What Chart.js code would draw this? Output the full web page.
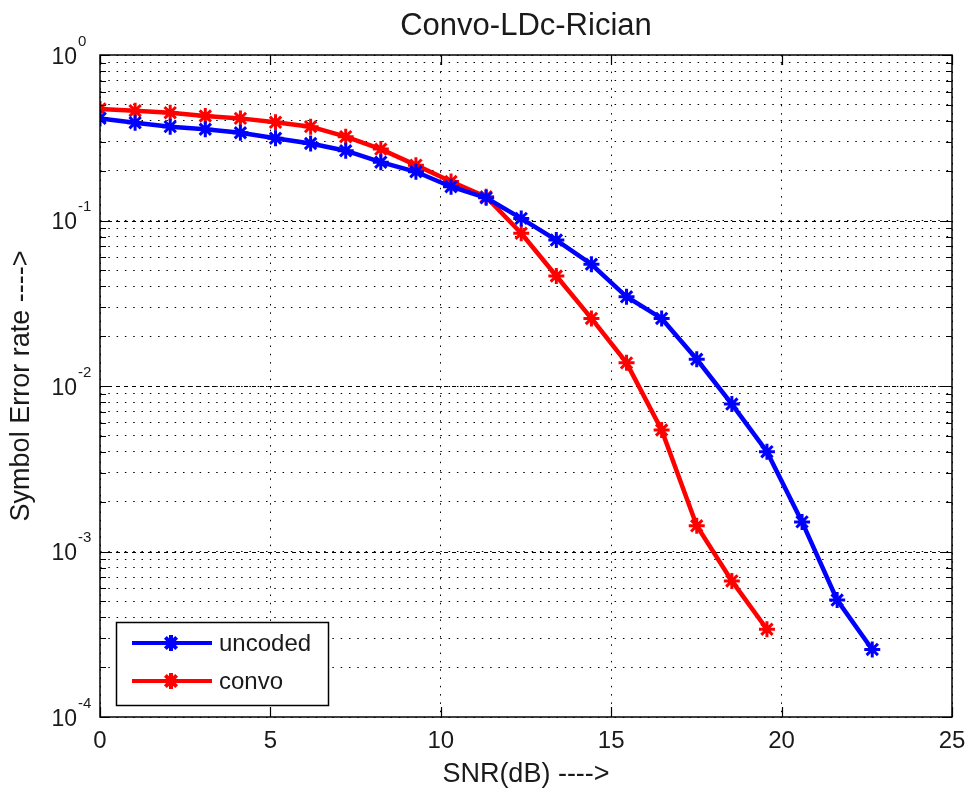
<!DOCTYPE html>
<html>
<head>
<meta charset="utf-8">
<script src="https://cdn.jsdelivr.net/npm/chart.js@4.4.1/dist/chart.umd.min.js"></script>
<style>
  html, body { margin: 0; padding: 0; background: #fff; }
  #wrap { width: 965px; height: 793px; }
</style>
</head>
<body>
<div id="wrap"><canvas id="myChart" width="965" height="793"></canvas></div>
<script>
// SNR values (dB) for each curve
var snrUncoded = [0, 1.03, 2.06, 3.09, 4.12, 5.15, 6.18, 7.21, 8.24, 9.27, 10.3, 11.33,
                  12.36, 13.39, 14.42, 15.45, 16.48, 17.51, 18.54, 19.57, 20.6, 21.63, 22.66];
var serUncoded = [0.414, 0.390, 0.369, 0.356, 0.339, 0.314, 0.292, 0.264, 0.225, 0.197, 0.160, 0.137,
                  0.103, 0.0762, 0.0544, 0.0346, 0.0256, 0.0145, 0.00778, 0.00401, 0.00151, 0.000509, 0.000256];

var snrConvo = [0, 1.03, 2.06, 3.09, 4.12, 5.15, 6.18, 7.21, 8.24, 9.27, 10.3, 11.33,
                12.36, 13.39, 14.42, 15.45, 16.48, 17.51, 18.54, 19.57];
var serConvo = [0.472, 0.461, 0.448, 0.428, 0.414, 0.392, 0.369, 0.321, 0.270, 0.216, 0.172, 0.139,
                0.0837, 0.0462, 0.0256, 0.0138, 0.00542, 0.00143, 0.000664, 0.000339];

var seriesNames = ['uncoded', 'convo'];
var xTicks = [0, 5, 10, 15, 20, 25];
var yDecades = [1e-4, 1e-3, 1e-2, 1e-1, 1];
var yExponents = ['-4', '-3', '-2', '-1', '0'];

var FONT = "'Liberation Sans', Arial, Helvetica, sans-serif";
var TEXT = '#1a1a1a';

// all log grid positions: decades plus 2..9 x decade
var yGrid = [];
yDecades.forEach(function (d, i) {
  yGrid.push(d);
  if (i < yDecades.length - 1) {
    for (var m = 2; m <= 9; m++) yGrid.push(+(d * m).toPrecision(3));
  }
});

function toPoints(xs, ys) {
  return ys.map(function (v, i) { return {x: xs[i], y: v}; });
}

var matlabFrame = {
  id: 'matlabFrame',
  beforeDatasetsDraw: function (chart) {
    var ctx = chart.ctx, a = chart.chartArea, ys = chart.scales.y;
    ctx.save();
    ctx.strokeStyle = '#000';
    ctx.lineWidth = 1;
    ctx.setLineDash([4, 4]);
    yDecades.forEach(function (d) {
      var py = Math.round(ys.getPixelForValue(d)) + 0.5;
      if (py <= a.top + 1 || py >= a.bottom - 1) return;
      ctx.beginPath();
      ctx.moveTo(a.left, py);
      ctx.lineTo(a.right, py);
      ctx.stroke();
    });
    ctx.restore();
  },
  afterDatasetsDraw: function (chart) {
    var ctx = chart.ctx, a = chart.chartArea, xs = chart.scales.x, ys = chart.scales.y;
    ctx.save();
    ctx.strokeStyle = '#000';
    ctx.lineWidth = 1.5;
    ctx.setLineDash([]);
    ctx.strokeRect(a.left, a.top, a.right - a.left, a.bottom - a.top);
    ctx.lineWidth = 1.2;
    // y ticks, inward on both sides
    yGrid.forEach(function (v) {
      var py = Math.round(ys.getPixelForValue(v)) + 0.5;
      var len = yDecades.indexOf(v) >= 0 ? 10 : 6;
      ctx.beginPath();
      ctx.moveTo(a.left, py); ctx.lineTo(a.left + len, py);
      ctx.moveTo(a.right, py); ctx.lineTo(a.right - len, py);
      ctx.stroke();
    });
    // x ticks, inward top and bottom
    xTicks.forEach(function (v) {
      var px = Math.round(xs.getPixelForValue(v)) + 0.5;
      ctx.beginPath();
      ctx.moveTo(px, a.bottom); ctx.lineTo(px, a.bottom - 10);
      ctx.moveTo(px, a.top); ctx.lineTo(px, a.top + 10);
      ctx.stroke();
    });
    // y tick labels 10^n
    ctx.fillStyle = TEXT;
    ctx.textBaseline = 'alphabetic';
    yDecades.forEach(function (d, i) {
      var py = ys.getPixelForValue(d);
      ctx.font = '23px ' + FONT;
      ctx.textAlign = 'right';
      ctx.fillText('10', 77, py + 8.5);
      ctx.font = '15px ' + FONT;
      ctx.textAlign = 'left';
      ctx.fillText(yExponents[i], 78, py - 9.5);
    });
    ctx.restore();
  },
  afterDraw: function (chart) {
    var ctx = chart.ctx;
    var bx = 116, by = 622, bw = 212, bh = 83;
    ctx.save();
    ctx.fillStyle = '#fff';
    ctx.fillRect(bx, by, bw, bh);
    ctx.strokeStyle = '#000';
    ctx.lineWidth = 1.5;
    ctx.strokeRect(bx + 0.5, by + 0.5, bw, bh);
    chart.data.datasets.forEach(function (ds, i) {
      var ly = by + 21 + i * 38;
      ctx.strokeStyle = ds.borderColor;
      ctx.lineWidth = 4;
      ctx.beginPath();
      ctx.moveTo(132, ly);
      ctx.lineTo(212, ly);
      ctx.stroke();
      Chart.helpers.drawPoint(ctx, {pointStyle: 'star', radius: 8, borderWidth: 3, rotation: 0}, 171, ly);
      ctx.fillStyle = TEXT;
      ctx.font = '24px ' + FONT;
      ctx.textAlign = 'left';
      ctx.textBaseline = 'middle';
      ctx.fillText(ds.label, 219, ly + 1);
    });
    ctx.restore();
  }
};

var data = {
  datasets: [
    {
      label: seriesNames[0],
      data: toPoints(snrUncoded, serUncoded),
      borderColor: '#0000ff',
      backgroundColor: '#0000ff',
      borderWidth: 4.5,
      pointStyle: 'star',
      pointRadius: 8,
      pointBorderWidth: 3,
      tension: 0
    },
    {
      label: seriesNames[1],
      data: toPoints(snrConvo, serConvo),
      borderColor: '#ff0000',
      backgroundColor: '#ff0000',
      borderWidth: 4.5,
      pointStyle: 'star',
      pointRadius: 8,
      pointBorderWidth: 3,
      tension: 0
    }
  ]
};

var ctx = document.getElementById('myChart').getContext('2d');

var myChart = new Chart(ctx, {
  type: 'line',
  data: data,
  plugins: [matlabFrame],
  options: {
    responsive: false,
    animation: false,
    devicePixelRatio: 1,
    layout: {padding: {left: 0, right: 0, top: 0, bottom: 0}},
    plugins: {
      legend: {display: false},
      tooltip: {enabled: false},
      title: {
        display: true,
        fullSize: false,
        text: 'Convo-LDc-Rician',
        color: TEXT,
        font: {family: FONT, size: 31, weight: 'normal'},
        padding: {top: 8, bottom: 9.8}
      }
    },
    scales: {
      x: {
        type: 'linear',
        min: 0,
        max: 25,
        ticks: {
          stepSize: 5,
          color: TEXT,
          padding: 10,
          maxRotation: 0,
          font: {family: FONT, size: 24}
        },
        grid: {color: '#000', lineWidth: 1, drawTicks: false},
        border: {display: false, dash: [1.5, 6.8]},
        title: {
          display: true,
          text: 'SNR(dB) ---->',
          color: TEXT,
          font: {family: FONT, size: 27},
          padding: {top: 0, bottom: 2}
        },
        afterFit: function (scale) {
          scale.height = 76;
          scale.paddingLeft = 0;
          scale.paddingRight = 13;
        }
      },
      y: {
        type: 'logarithmic',
        min: 1e-4,
        max: 1,
        afterBuildTicks: function (scale) {
          scale.ticks = yGrid.map(function (v) { return {value: v}; });
        },
        ticks: {display: false},
        grid: {color: '#000', lineWidth: 1, drawTicks: false},
        border: {display: false, dash: [1.5, 6.8]},
        title: {
          display: true,
          text: 'Symbol Error rate ---->',
          color: TEXT,
          font: {family: FONT, size: 27},
          padding: {top: 5, bottom: 0}
        },
        afterFit: function (scale) { scale.width = 100; }
      }
    }
  }
});
</script>
</body>
</html>
